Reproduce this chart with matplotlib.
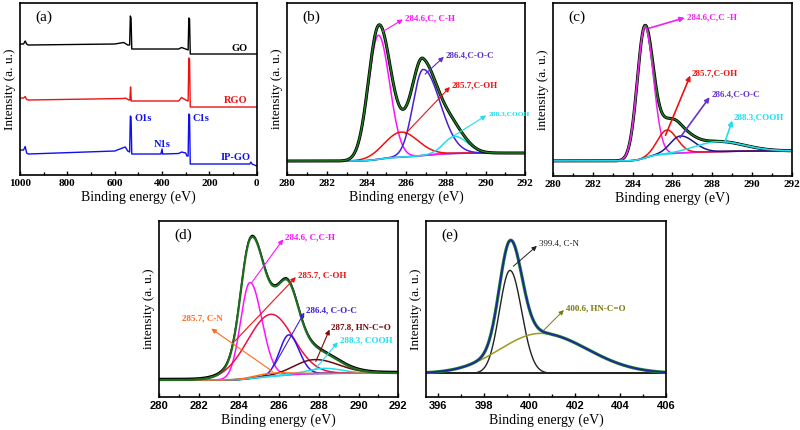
import matplotlib.pyplot as plt
import numpy as np

plt.rcParams['font.family'] = 'Liberation Serif'
plt.rcParams['font.weight'] = 'bold'

# ---- survey spectra (a): breakpoints (eV, a.u.)
go_x = [1000, 985, 978, 972, 965, 600, 562, 555, 545, 537, 534, 531, 528, 520, 330, 318, 300, 290, 287, 284, 281, 278, 0]
go_y = [131, 131, 134, 131, 130, 131, 132.5, 131.5, 130, 130, 159, 157, 126, 126, 126, 127.5, 126, 125, 157, 156, 121, 121, 121]
rgo_x = [1000, 985, 978, 972, 965, 565, 555, 540, 536, 533, 530, 525, 330, 318, 300, 290, 287, 284, 281, 278, 0]
rgo_y = [77, 77, 78.5, 75.5, 75, 76.5, 77, 75, 75, 88, 74, 74, 74, 77.5, 75, 74, 117, 116, 68, 68, 68]
ipgo_x = [1000, 985, 978, 972, 965, 600, 562, 555, 545, 537, 534, 531, 528, 500, 405, 400, 398, 395, 330, 318, 300,
          295, 290, 287, 284, 281, 278, 30, 25, 20, 0]
ipgo_y = [25, 25, 28.5, 22, 21, 24, 27.5, 28, 24, 23, 59, 58, 21, 21, 21, 26, 21, 21, 21.5, 23, 22,
          19, 19, 61, 60, 11, 11, 11, 13, 11, 9]

# ---- fitted components: centre (eV), height (a.u.), left / right half widths (eV)
b_names = ['284.6,C, C-H', '285.7,C-OH', '286.4,C-O-C', '288.3,COOH']
b_cen = [284.6, 285.75, 286.85, 288.45]
b_hgt = [124, 25, 86, 17]
b_hl = [0.6, 1.0, 0.6, 0.65]
b_hr = [0.66, 1.0, 1.0, 0.75]
b_bg = [14, 22]

c_names = ['284.6,C,C -H', '285.7,C-OH', '286.4,C-O-C', '288.3,COOH']
c_cen = [284.62, 285.72, 286.4, 288.3]
c_hgt = [131, 24, 17, 10]
c_hl = [0.45, 0.55, 0.6, 1.3]
c_hr = [0.5, 0.6, 0.8, 1.5]
c_bg = [15, 25]

d_names = ['284.6, C,C-H', '285.7, C-OH', '286.4, C-O-C', '287.8, HN-C=O', '288.3, COOH', '285.7, C-N']
d_cen = [284.55, 285.6, 286.5, 287.8, 288.3, 285.7]
d_hgt = [96, 62, 40, 14, 5, 3]
d_hl = [0.55, 1.4, 0.55, 1.2, 1.0, 1.0]
d_hr = [0.7, 1.3, 0.6, 1.4, 1.0, 1.0]
d_bg = [17, 24]

e_names = ['399.4, C-N', '400.6, HN-C=O']
e_cen = [399.15, 400.5]
e_hgt = [103, 40]
e_hl = [0.55, 2.1]
e_hr = [0.6, 2.4]
e_bg = [23.7, 23.7]


def peak(x, c, h, hl, hr):
    w = np.where(x < c, hl, hr)
    return h * np.exp(-np.log(2) * ((x - c) / w) ** 2)


def shirley(x, comps, bg):
    tot = np.sum(comps, axis=0)
    cum = np.cumsum(tot)
    return bg[0] + (bg[1] - bg[0]) * cum / cum[-1]


def style(ax, xlim, ylim, major, minor, ylabel, letter, tickfont='Liberation Serif'):
    ax.set_xlim(*xlim)
    ax.set_ylim(*ylim)
    ax.set_xticks(major)
    ax.set_xticks(minor, minor=True)
    ax.tick_params(which='both', direction='in', left=False, labelleft=False, labelsize=8, pad=3)
    ax.tick_params(which='major', length=3, width=1)
    ax.tick_params(which='minor', length=2, width=1)
    for t in ax.get_xticklabels():
        t.set_fontfamily(tickfont)
        t.set_fontweight('bold')
    for s in ax.spines.values():
        s.set_linewidth(1.2)
    ax.set_xlabel('Binding energy (eV)', fontsize=10, labelpad=2)
    ax.set_ylabel(ylabel, fontsize=9.5, labelpad=3)
    ax.text(0.065, 0.92, letter, transform=ax.transAxes, fontsize=11, fontweight='normal', va='center')


def annotate(ax, txt, src, dst, color, weight='bold', lw=0.8, size=6.5):
    ax.annotate('', xy=dst, xytext=src,
                arrowprops=dict(arrowstyle='-|>', color=color, lw=lw, mutation_scale=7))
    ax.text(dst[0], dst[1], txt, color=color, fontsize=size, fontweight=weight, va='center', ha='left',
            clip_on=False)


fig = plt.figure(figsize=(8, 4.3), dpi=100)

# ---------------- (a)
ax = fig.add_axes([0.025, 0.593, 0.296, 0.4])
ax.plot(go_x, go_y, color='black', lw=1)
ax.plot(rgo_x, rgo_y, color='#ee1111', lw=1)
ax.plot(ipgo_x, ipgo_y, color='#1010ee', lw=1)
style(ax, (1000, 0), (0, 172), np.arange(1000, -1, -200), np.arange(900, 0, -200), 'Intensity (a. u.)', '(a)')
ax.text(40, 127, 'GO', color='black', fontsize=7.5, ha='right', va='center')
ax.text(40, 75, 'RGO', color='#ee1111', fontsize=7.5, ha='right', va='center')
ax.text(25, 18, 'IP-GO', color='#1010ee', fontsize=7.5, ha='right', va='center')
ax.text(518, 57, 'O1s', color='#1010ee', fontsize=7.5, ha='left', va='center')
ax.text(400, 31, 'N1s', color='#1010ee', fontsize=7.5, ha='center', va='center')
ax.text(272, 57, 'C1s', color='#1010ee', fontsize=7.5, ha='left', va='center')

xc = np.linspace(280, 292, 600)

# ---------------- (b)
ax = fig.add_axes([0.359, 0.593, 0.2975, 0.4])
comps = [peak(xc, *p) for p in zip(b_cen, b_hgt, b_hl, b_hr)]
bg = shirley(xc, comps, b_bg)
env = bg + np.sum(comps, axis=0)
cols = ['#ff11ff', '#ee1111', '#4a1fd6', '#22ddee']
ax.plot(xc, bg, color='#2255cc', lw=1.2)
for comp, col in zip(comps, cols):
    ax.plot(xc, bg + comp, color=col, lw=1.1)
ax.plot(xc, env, color='black', lw=2.2)
ax.plot(xc, env, color='#1f7a1f', lw=1.1)
style(ax, (280, 292), (0, 172), np.arange(280, 293, 2), np.arange(281, 292, 2), 'intensity (a. u.)', '(b)')
annotate(ax, b_names[0], (284.7, 142), (285.95, 157), '#ff11ff')
annotate(ax, b_names[1], (285.85, 39), (288.3, 90), '#ee1111')
annotate(ax, b_names[2], (286.85, 99), (288.0, 120), '#5b2fc9')
annotate(ax, b_names[3], (288.3, 38), (290.15, 61), '#22ddee', size=5.3)

# ---------------- (c)
ax = fig.add_axes([0.691, 0.591, 0.299, 0.402])
comps = [peak(xc, *p) for p in zip(c_cen, c_hgt, c_hl, c_hr)]
bg = shirley(xc, comps, c_bg)
env = bg + np.sum(comps, axis=0)
cols = ['#ee22ee', '#ee1111', '#1a1a80', '#22ddee']
ax.plot(xc, bg, color='#22ccee', lw=1.2)
ax.plot(xc, env, color='black', lw=2.2)
ax.plot(xc, env, color='#1f7a1f', lw=1.1)
for comp, col in zip(comps, cols):
    ax.plot(xc, bg + comp, color=col, lw=1.1)
style(ax, (280, 292), (0, 173), np.arange(280, 293, 2), np.arange(281, 292, 2), 'intensity (a. u.)', '(c)')
annotate(ax, c_names[0], (284.7, 147), (286.75, 159), '#ee22ee', lw=1.2)
annotate(ax, c_names[1], (285.6, 38), (286.95, 103), '#ee1111', lw=1.2)
annotate(ax, c_names[2], (286.3, 36), (287.95, 81), '#6633cc', lw=1.2)
annotate(ax, c_names[3], (288.6, 32), (289.05, 58), '#22ddee', lw=1.2)

# ---------------- (d)
ax = fig.add_axes([0.199, 0.0767, 0.299, 0.409])
comps = [peak(xc, *p) for p in zip(d_cen, d_hgt, d_hl, d_hr)]
bg = shirley(xc, comps, d_bg)
env = bg + np.sum(comps, axis=0)
cols = ['#ff11ff', '#ee1144', '#3311ee', '#6b0a0a', '#22ddee', '#ff6a1a']
ax.plot(xc, bg, color='#22ccee', lw=1.4)
for comp, col in zip(comps, cols):
    ax.plot(xc, bg + comp, color=col, lw=1.1)
ax.plot(xc, env + 1.5, color='black', lw=1.1)
ax.plot(xc, env, color='#1f6b1f', lw=1.6)
style(ax, (280, 292), (0, 176), np.arange(280, 293, 2), np.arange(281, 292, 2), 'intensity (a. u.)', '(d)',
      tickfont='Liberation Sans')
annotate(ax, d_names[0], (284.55, 112), (286.3, 160), '#ff11ff')
annotate(ax, d_names[1], (283.7, 54), (286.95, 122), '#ee1111')
annotate(ax, d_names[2], (285.7, 29), (287.35, 87), '#3f1fdc')
annotate(ax, d_names[3], (287.8, 33), (288.6, 70), '#7a0a0a')
annotate(ax, d_names[4], (287.7, 25), (289.05, 57), '#22ddee')
ax.annotate('', xy=(282.5, 70), xytext=(285.8, 24),
            arrowprops=dict(arrowstyle='-|>', color='#ff6a1a', lw=0.8, mutation_scale=7))
ax.text(281.15, 79, d_names[5], color='#ff6a1a', fontsize=6.5, va='center', ha='left')

# ---------------- (e)
xe = np.linspace(395.4, 406, 600)
ax = fig.add_axes([0.5325, 0.0767, 0.3, 0.409])
comps = [peak(xe, *p) for p in zip(e_cen, e_hgt, e_hl, e_hr)]
bg = shirley(xe, comps, e_bg)
env = bg + np.sum(comps, axis=0)
ax.plot(xe, bg, color='#222222', lw=1.4)
ax.plot(xe, bg + comps[0], color='#222222', lw=1.0)
ax.plot(xe, bg + comps[1], color='#9a9a20', lw=1.1)
ax.plot(xe, env, color='#2a8a2a', lw=2.3)
ax.plot(xe, env, color='#1a2a9a', lw=1.3)
style(ax, (395.46, 406), (0, 176), np.arange(396, 407, 2), np.arange(397, 406, 2), 'Intensity (a. u.)', '(e)',
      tickfont='Liberation Sans')
annotate(ax, e_names[0], (399.2, 129), (400.42, 153), '#222222', weight='normal', lw=0.7)
annotate(ax, e_names[1], (400.55, 65), (401.6, 89), '#7a7a10', lw=0.7)

fig.savefig('out.png', dpi=100)
